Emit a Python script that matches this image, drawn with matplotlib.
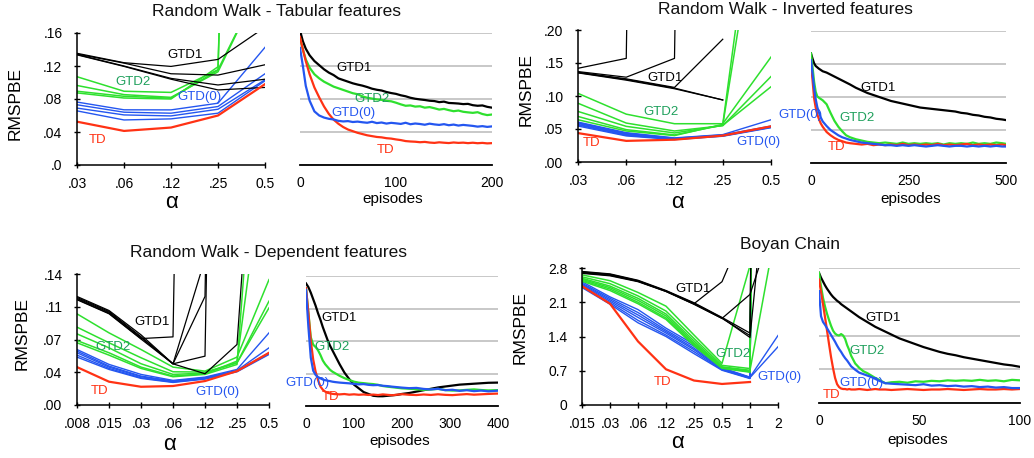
import numpy as np
import matplotlib
matplotlib.use('Agg')
import matplotlib.pyplot as plt

plt.rcParams['font.family'] = ['Liberation Sans', 'DejaVu Sans']

W, H = 1034, 458
BLACK = '#000000'
GREEN = '#2ee02e'
BLUE = '#2456f0'
RED = '#ff3214'
TEAL = '#1fa05c'

# ---------------- Random Walk - Tabular features ----------------
alpha_rw = ['.03', '.06', '.12', '.25', '0.5']
td_tab = [.0525, .0413, .0454, .060, .098]
gtd0_tab = [[.0763, .0669, .0668, .0749, .1426],
            [.0730, .0640, .0628, .0709, .1106],
            [.0690, .0607, .0595, .0676, .1033],
            [.0656, .0546, .0559, .0628, .1021]]
gtd2_tab = [[.1070, .0894, .0880, .1155, .23],
            [.0964, .0853, .0820, .1130, .23],
            [.0894, .0833, .0810, .1150, 2.0],
            [.0874, .0812, .0800, .1190, 2.0]]
gtd1_tab = [[.1354, .1240, .1195, .1280, .1670],
            [.1345, .1235, .1106, .1090, .1215],
            [.1340, .1200, .1050, .0970, .1040],
            [.1335, .1195, .1040, .0910, .0940]]

ep_tab = [0, 3, 6, 10, 15, 20, 25, 30, 35, 40, 45, 50, 55, 60, 65, 70, 75, 80, 85, 90, 95,
          100, 105, 110, 115, 120, 125, 130, 135, 140, 145, 150, 155, 160, 165, 170, 175,
          180, 185, 190, 195, 200]
lc_tab_gtd1 = [.163, .150, .141, .133, .126, .121, .116, .112, .109, .105, .103, .101, .099,
               .0975, .0962, .0945, .0925, .0912, .0903, .0885, .0872, .0862, .0845, .0833,
               .0815, .0803, .0795, .0788, .0779, .0775, .0762, .0768, .0752, .0749, .0745,
               .0738, .0741, .0725, .0718, .0722, .0705, .0695]
lc_tab_gtd2 = [.154, .140, .128, .118, .110, .105, .101, .098, .095, .093, .091, .089, .087,
               .0858, .0832, .0815, .0805, .0795, .0790, .0778, .0772, .0755, .0735, .0718,
               .0722, .0708, .0712, .0695, .0702, .0688, .0672, .0680, .0665, .0652, .0660,
               .0645, .0638, .0632, .0640, .0618, .0605, .0612]
lc_tab_gtd0 = [.142, .120, .096, .078, .065, .060, .0575, .0560, .0552, .0535, .0528, .0532,
               .0521, .0526, .0518, .0512, .0524, .0508, .0515, .0502, .0511, .0505, .0498,
               .0512, .0494, .0503, .0497, .0488, .0501, .0492, .0486, .0495, .0482, .0490,
               .0478, .0486, .0480, .0474, .0465, .0471, .0462, .0468]
lc_tab_td = [.155, .140, .126, .110, .094, .082, .071, .062, .055, .050, .046, .043, .041,
             .039, .0375, .036, .035, .034, .0335, .0325, .032, .031, .0302, .029, .0285,
             .0282, .0276, .0280, .0272, .0268, .0275, .0270, .0266, .0273, .0268, .0271,
             .0265, .0270, .0264, .0268, .0262, .0265]

# ---------------- Random Walk - Inverted features ----------------
td_inv = [.0438, .0320, .0338, .0400, .0540]
gtd0_inv = [[.0605, .0445, .0365, .0415, .0640],
            [.0595, .0435, .0360, .0410, .0545],
            [.0585, .0425, .0355, .0405, .0535],
            [.0570, .0415, .0350, .0400, .0530],
            [.0560, .0405, .0345, .0395, .0525],
            [.0545, .0395, .0340, .0390, .0520]]
gtd2_inv = [[.1040, .0725, .0580, .0580, .1590],
            [.0890, .0590, .0470, .0550, .1295],
            [.0766, .0540, .0440, .0555, .1140],
            [.0690, .0490, .0410, .0560, .5100],
            [.0640, .0470, .0400, .0570, .6000]]
gtd1_inv = [[.142, .157, 5.0, np.nan, np.nan],
            [.137, .1285, .157, 5.0, np.nan],
            [.136, .126, .113, .186, np.nan],
            [.1355, .125, .112, .094, np.nan],
            [.135, .124, .111, .094, np.nan]]

ep_inv = [0, 4, 8, 12, 16, 20, 25, 30, 40, 50, 60, 70, 80, 90, 100, 115, 130, 145, 160, 175,
          190, 205, 220, 235, 250, 265, 280, 295, 310, 325, 340, 355, 370, 385, 400, 415,
          430, 445, 460, 475, 490, 500]
lc_inv_gtd1 = [.166, .158, .151, .147, .145, .143, .141, .139, .137, .134, .131, .128, .125,
               .122, .119, .114, .110, .106, .103, .100, .097, .094, .092, .090, .088, .086,
               .084, .083, .082, .081, .080, .079, .078, .076, .075, .073, .072, .070, .069,
               .067, .066, .065]
lc_inv_gtd2 = [.166, .145, .123, .108, .101, .099, .097, .095, .089, .076, .064, .055, .048,
               .042, .039, .036, .034, .032, .031, .030, .031, .030, .029, .031, .029, .030,
               .029, .030, .029, .030, .028, .030, .029, .030, .029, .031, .029, .030, .029,
               .031, .030, .029]
lc_inv_gtd0 = [.156, .135, .113, .097, .085, .077, .069, .063, .056, .050, .046, .042, .039,
               .037, .035, .033, .031, .030, .029, .028, .027, .027, .026, .027, .026, .027,
               .026, .025, .026, .027, .026, .025, .026, .026, .025, .026, .025, .026, .025,
               .026, .025, .025]
lc_inv_td = [.150, .125, .098, .084, .074, .067, .060, .055, .047, .042, .038, .035, .033,
             .031, .030, .029, .028, .029, .027, .028, .027, .028, .027, .029, .027, .028,
             .027, .028, .027, .029, .027, .028, .027, .028, .029, .027, .028, .027, .028,
             .027, .028, .027]

# ---------------- Random Walk - Dependent features ----------------
alpha_dep = ['.008', '.015', '.03', '.06', '.12', '.25', '0.5']
td_dep = [.0405, .0249, .0195, .0203, .0256, .0362, .0558]
gtd0_dep = [[.0593, .0434, .0327, .0263, .0298, .0380, .0771],
            [.0576, .0416, .0309, .0256, .0291, .0369, .0611],
            [.0558, .0405, .0302, .0249, .0284, .0362, .0558],
            [.0533, .0391, .0291, .0245, .0281, .0362, .0547],
            [.0512, .0380, .0284, .0241, .0277, .0355, .0540]]
gtd2_dep = [[.0974, .0771, .0593, .0405, .0362, .0512, .134],
            [.0832, .0665, .0505, .0355, .0352, .0451, .111],
            [.0760, .0611, .0441, .0327, .0341, .0451, .1038],
            [.0689, .0558, .0405, .0309, .0334, .0469, .305],
            [.0665, .0533, .0391, .0302, .0327, .0433, .50]]
gtd1_dep = [[.1160, .1010, .0750, .0440, .0334, .0647, .55],
            [.1150, .1000, .0730, .0440, .0522, 2.0, np.nan],
            [.1140, .0990, .0720, .0440, .1560, 2.0, np.nan],
            [.1130, .0980, .0710, .0728, 2.0, np.nan, np.nan],
            [.1125, .0975, .0705, .0440, .1160, 2.0, np.nan]]

ep_dep = [0, 5, 10, 15, 20, 25, 30, 35, 40, 45, 50, 55, 60, 70, 80, 90, 100, 110, 120, 130,
          140, 150, 160, 170, 180, 190, 200, 215, 230, 245, 260, 275, 290, 305, 320, 335,
          350, 365, 380, 400]
lc_dep_gtd1 = [.132, .128, .122, .115, .108, .100, .093, .085, .078, .071, .065, .060, .055,
               .045, .036, .029, .023, .019, .015, .013, .011, .0105, .0105, .011, .0115,
               .012, .013, .014, .0155, .017, .0185, .020, .021, .022, .023, .0235, .024,
               .0245, .025, .0252]
lc_dep_gtd2 = [.127, .100, .074, .066, .0635, .060, .055, .049, .045, .042, .039, .037, .0355,
               .0325, .030, .028, .0262, .0251, .0246, .0240, .0236, .0228, .0215, .0208,
               .0202, .0196, .0190, .0186, .0180, .0174, .0178, .0184, .0172, .0166, .0168,
               .0174, .0179, .0172, .0168, .0171]
lc_dep_gtd0 = [.125, .085, .052, .038, .0335, .0312, .0298, .0285, .0278, .0272, .0268, .0262,
               .0258, .0252, .0248, .0244, .0238, .0233, .0236, .0228, .0224, .0226, .0218,
               .0214, .0208, .0203, .0198, .0192, .0195, .0184, .0178, .0186, .0170, .0175,
               .0163, .0170, .0160, .0166, .0158, .0165]
lc_dep_td = [.127, .100, .070, .050, .037, .028, .021, .0175, .0155, .0142, .0136, .0131,
             .0128, .0125, .0129, .0122, .0126, .0121, .0124, .0119, .0123, .0118, .0125,
             .0120, .0116, .0122, .0127, .0121, .0118, .0124, .0119, .0126, .0120, .0117,
             .0123, .0128, .0122, .0126, .0130, .0134]

# ---------------- Boyan Chain ----------------
alpha_boy = ['.015', '.03', '.06', '.12', '.25', '0.5', '1', '2']
td_boy = [2.43, 2.07, 1.30, 0.73, 0.50, 0.43, 0.47, np.nan]
gtd0_boy = [[2.52, 2.21, 1.95, 1.57, 1.24, 0.76, 0.57, 1.42],
            [2.49, 2.18, 1.89, 1.53, 1.20, 0.75, 0.56, 1.19],
            [2.47, 2.15, 1.84, 1.50, 1.16, 0.74, 0.56, 60],
            [2.45, 2.12, 1.79, 1.47, 1.13, 0.73, 0.55, 60],
            [2.42, 2.09, 1.73, 1.43, 1.09, 0.72, 0.55, 60],
            [2.40, 2.06, 1.68, 1.40, 1.05, 0.71, 0.54, 60]]
gtd2_boy = [[2.66, 2.54, 2.30, 2.02, 1.43, 0.85, 2.85, np.nan],
            [2.62, 2.48, 2.23, 1.92, 1.36, 0.81, 0.745, 60],
            [2.59, 2.43, 2.18, 1.86, 1.31, 0.78, 0.71, 3.82],
            [2.57, 2.40, 2.14, 1.82, 1.27, 0.77, 0.69, 60],
            [2.55, 2.37, 2.10, 1.78, 1.24, 0.76, 0.68, 60],
            [2.53, 2.34, 2.07, 1.75, 1.21, 0.75, 0.67, 60]]
gtd1_boy = [[2.73, 2.68, 2.55, 2.34, 2.09, 1.79, 1.47, 60],
            [2.72, 2.67, 2.54, 2.33, 2.08, 1.78, 1.38, 7.2],
            [2.71, 2.66, 2.53, 2.33, 2.07, 2.52, 3.86, np.nan],
            [2.70, 2.65, 2.53, 2.32, 2.06, 1.77, 2.26, 4.0],
            [2.69, 2.64, 2.52, 2.32, 2.06, 1.77, 1.42, 60]]

ep_boy = [0, 1, 2, 3, 4, 5, 6, 7, 8, 9, 10, 11, 12, 13, 14, 15, 16, 18, 20, 22, 24, 26, 28,
          30, 33, 36, 40, 44, 48, 52, 56, 60, 64, 68, 72, 76, 80, 84, 88, 92, 96, 100]
lc_boy_gtd1 = [2.70, 2.60, 2.52, 2.44, 2.37, 2.31, 2.25, 2.20, 2.16, 2.12, 2.09, 2.05, 2.02,
               1.99, 1.96, 1.93, 1.90, 1.84, 1.78, 1.73, 1.68, 1.63, 1.58, 1.54, 1.48, 1.42,
               1.34, 1.28, 1.22, 1.16, 1.11, 1.06, 1.02, 0.99, 0.95, 0.92, 0.89, 0.86, 0.83,
               0.80, 0.78, 0.75]
lc_boy_gtd2 = [2.70, 2.42, 2.18, 2.00, 1.85, 1.72, 1.60, 1.50, 1.44, 1.41, 1.40, 1.43, 1.40,
               1.33, 1.20, 1.10, 0.98, 0.82, 0.73, 0.66, 0.62, 0.57, 0.52, 0.48, 0.41, 0.43,
               0.44, 0.42, 0.45, 0.44, 0.46, 0.45, 0.47, 0.46, 0.47, 0.46, 0.48, 0.46, 0.47,
               0.45, 0.48, 0.47]
lc_boy_gtd0 = [2.32, 1.80, 1.68, 1.62, 1.55, 1.48, 1.41, 1.34, 1.27, 1.19, 1.12, 1.06, 0.99,
               0.93, 0.88, 0.82, 0.76, 0.69, 0.63, 0.60, 0.57, 0.54, 0.50, 0.46, 0.41, 0.40,
               0.39, 0.38, 0.37, 0.39, 0.36, 0.37, 0.35, 0.36, 0.34, 0.35, 0.33, 0.34, 0.32,
               0.33, 0.31, 0.31]
lc_boy_td = [2.56, 2.30, 2.05, 1.78, 1.50, 1.22, 0.95, 0.72, 0.52, 0.39, 0.33, 0.30, 0.29,
             0.29, 0.28, 0.29, 0.28, 0.28, 0.29, 0.28, 0.27, 0.28, 0.29, 0.28, 0.28, 0.27,
             0.28, 0.29, 0.28, 0.27, 0.28, 0.28, 0.29, 0.28, 0.27, 0.28, 0.29, 0.28, 0.28,
             0.29, 0.28, 0.29]

fig = plt.figure(figsize=(W / 100, H / 100), dpi=100)


def px_axes(l, t, r, b):
    return fig.add_axes([l / W, 1 - b / H, (r - l) / W, (b - t) / H])


def ftext(x, y, s, **kw):
    fig.text(x / W, 1 - y / H, s, ha='center', va='center', **kw)


def sens_panel(box, alphas, yticks, ylabels, gtd0, gtd2, gtd1, td):
    ax = px_axes(*box)
    xs = np.arange(len(alphas))
    for row in gtd0:
        ax.plot(xs, row, color=BLUE, lw=1.0)
    for row in gtd2:
        ax.plot(xs, row, color=GREEN, lw=1.1)
    for row in gtd1:
        ax.plot(xs, row, color=BLACK, lw=0.9)
    ax.plot(xs, td, color=RED, lw=1.6)
    ax.set_xlim(0, len(alphas) - 1)
    ax.set_ylim(yticks[0], yticks[-1])
    ax.set_xticks(xs, alphas)
    ax.set_yticks(yticks, ylabels)
    for s in ['top', 'right']:
        ax.spines[s].set_visible(False)
    for s in ['left', 'bottom']:
        ax.spines[s].set_linewidth(1.1)
    ax.tick_params(direction='inout', length=5, width=1.0, labelsize=10)
    ax.tick_params(axis='x', pad=6)
    ax.tick_params(axis='y', pad=8)
    return ax


def curve_panel(box, eps, ymax, xticks, gtd1, gtd2, gtd0, td):
    ax = px_axes(*box)
    ax.plot(eps, gtd1, color=BLACK, lw=1.6)
    ax.plot(eps, gtd2, color=GREEN, lw=1.6)
    ax.plot(eps, td, color=RED, lw=1.6)
    ax.plot(eps, gtd0, color=BLUE, lw=1.6)
    ax.set_xlim(0, eps[-1])
    ax.set_ylim(0, ymax)
    ax.set_yticks(np.linspace(0, ymax, 5))
    ax.set_xticks(xticks)
    ax.grid(axis='y', color='#c4c4c4', lw=1.3)
    ax.set_axisbelow(True)
    for s in ['top', 'right', 'left']:
        ax.spines[s].set_visible(False)
    ax.spines['bottom'].set_linewidth(1.3)
    ax.tick_params(axis='y', length=0, labelleft=False)
    ax.tick_params(axis='x', length=0, labelsize=10, pad=8)
    return ax


# panels
sens_panel((77, 33, 265, 165), alpha_rw, [0, .04, .08, .12, .16],
           ['.0', '.04', '.08', '.12', '.16'], gtd0_tab, gtd2_tab, gtd1_tab, td_tab)
curve_panel((300, 33, 492, 165), ep_tab, .16, [0, 100, 200],
            lc_tab_gtd1, lc_tab_gtd2, lc_tab_gtd0, lc_tab_td)
sens_panel((578, 30, 771, 162), alpha_rw, [0, .05, .10, .15, .20],
           ['.00', '.05', '.10', '.15', '.20'], gtd0_inv, gtd2_inv, gtd1_inv, td_inv)
curve_panel((811, 31, 1006, 163), ep_inv, .2, [0, 250, 500],
            lc_inv_gtd1, lc_inv_gtd2, lc_inv_gtd0, lc_inv_td)
sens_panel((77, 274, 269, 405), alpha_dep, [0, .035, .07, .105, .14],
           ['.00', '.04', '.07', '.11', '.14'], gtd0_dep, gtd2_dep, gtd1_dep, td_dep)
curve_panel((306, 276, 498, 406), ep_dep, .14, [0, 100, 200, 300, 400],
            lc_dep_gtd1, lc_dep_gtd2, lc_dep_gtd0, lc_dep_td)
sens_panel((582, 268, 778, 405), alpha_boy, [0, .7, 1.4, 2.1, 2.8],
           ['0', '0.7', '1.4', '2.1', '2.8'], gtd0_boy, gtd2_boy, gtd1_boy, td_boy)
curve_panel((819, 268, 1020, 403), ep_boy, 2.8, [0, 50, 100],
            lc_boy_gtd1, lc_boy_gtd2, lc_boy_gtd0, lc_boy_td)

# titles
ftext(277, 12, 'Random Walk - Tabular features', fontsize=12.5, color='#111111')
ftext(785, 10, 'Random Walk - Inverted features', fontsize=12.5, color='#111111')
ftext(268, 253, 'Random Walk - Dependent features', fontsize=12.5, color='#111111')
ftext(790, 245, 'Boyan Chain', fontsize=12.5, color='#111111')

# axis labels
for x, y in [(15, 103), (526, 90), (22, 333), (520, 327)]:
    ftext(x, y, 'RMSPBE', fontsize=12.5, rotation=90)
for x, y in [(172, 203), (677, 202), (170, 445), (677, 443)]:
    ftext(x, y, 'α', fontsize=16)
for x, y in [(393, 199), (911, 199), (400, 441), (918, 440)]:
    ftext(x, y, 'episodes', fontsize=11)

# curve labels
labels = [
    (185, 55, 'GTD1', BLACK), (133, 82, 'GTD2', TEAL), (199, 97, 'GTD(0)', BLUE), (98, 140, 'TD', RED),
    (354, 68, 'GTD1', BLACK), (372, 99, 'GTD2', TEAL), (353, 113, 'GTD(0)', BLUE), (386, 150, 'TD', RED),
    (665, 78, 'GTD1', BLACK), (661, 112, 'GTD2', TEAL), (758, 142, 'GTD(0)', BLUE), (592, 143, 'TD', RED),
    (878, 88, 'GTD1', BLACK), (857, 118, 'GTD2', TEAL), (800, 115, 'GTD(0)', BLUE), (837, 147, 'TD', RED),
    (152, 322, 'GTD1', BLACK), (113, 347, 'GTD2', TEAL), (217, 392, 'GTD(0)', BLUE), (100, 391, 'TD', RED),
    (339, 318, 'GTD1', BLACK), (332, 347, 'GTD2', TEAL), (307, 383, 'GTD(0)', BLUE), (331, 397, 'TD', RED),
    (693, 289, 'GTD1', BLACK), (733, 354, 'GTD2', TEAL), (779, 377, 'GTD(0)', BLUE), (663, 382, 'TD', RED),
    (883, 318, 'GTD1', BLACK), (867, 351, 'GTD2', TEAL), (861, 383, 'GTD(0)', BLUE), (832, 395, 'TD', RED),
]
for x, y, s, c in labels:
    ftext(x, y, s, fontsize=9.5, color=c)

fig.savefig('out.png', dpi=100, facecolor='white')
